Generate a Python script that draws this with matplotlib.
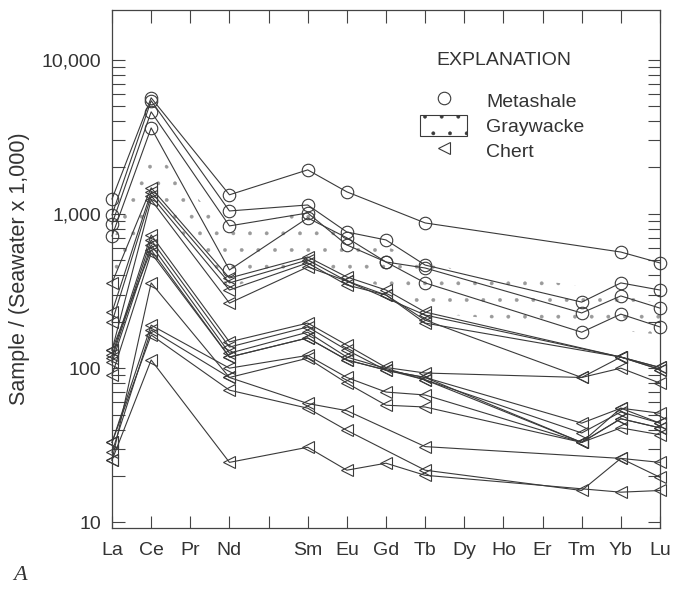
import numpy as np
import matplotlib.pyplot as plt
from matplotlib.lines import Line2D
from matplotlib.patches import Patch
from matplotlib.ticker import FixedLocator, NullFormatter

plt.rcParams['font.family'] = ['Liberation Sans', 'DejaVu Sans']
plt.rcParams['hatch.linewidth'] = 0.3
plt.rcParams['hatch.color'] = '#9a9a9a'

# REE order along the axis (Pm slot kept but not labelled)
tick_labels = ['La', 'Ce', 'Pr', 'Nd', '', 'Sm', 'Eu', 'Gd', 'Tb', 'Dy', 'Ho', 'Er', 'Tm', 'Yb', 'Lu']
# elements actually analysed
elements = ['La', 'Ce', 'Nd', 'Sm', 'Eu', 'Gd', 'Tb', 'Tm', 'Yb', 'Lu']
nan = np.nan

# sample / (seawater x 1000), order as in `elements`
metashale = [
    [1250, 5660, 1330, 1930, 1390, nan, 874, nan, 566, 481],
    [986, 5420, 1045, 1143, 763, 678, 466, 268, 357, 321],
    [861, 4590, 836, 1014, 629, 488, 446, 228, 294, 245],
    [720, 3610, 433, 942, 700, 488, 357, 171, 224, 185],
]

chert = [
    [357, 1476, 384, 526, 390, 321, 231, nan, 118, 101],
    [231, 1390, 357, 503, 367, nan, 221, nan, 118, 98],
    [199, 1310, 321, 481, 346, 298, 205, 87, 100, 80],
    [131, 1233, 264, 453, 367, 298, 196, nan, 118, 101],
    [121, 731, 148, 196, 141, 101, 93, 87, 118, 98],
    [116, 678, 137, 185, 131, 97, 87, 44, 55, 51],
    [109, 629, 125, 171, 118, nan, 84, 38, 52, 44],
    [131, 584, 118, 157, 113, nan, 84, 33, 55, 44],
    [90, 558, 118, 157, 113, 97, 87, 33, 47, 41],
    [25.3, 357, 87, 59, 53, nan, 31, nan, 26, 24.5],
    [33, 190, 100, 121, 87, 70, 67, 33, 47, 41],
    [28.5, 177, 87, 116, 80, 57.5, 56, 33, 41, 37],
    [33, 164, 72, 55, 39.5, nan, 21.8, 16.1, 26, 19.6],
    [25.3, 113, 24.5, 30.7, 21.8, 24.2, 20.2, nan, 15.7, 16.1],
]

# graywacke field (stippled envelope)
gw_upper = [650, 2700, 750, 1100, 720, 620, 470, 340, 300, 260]
gw_lower = [280, 1300, 330, 500, 400, 330, 230, 185, 175, 165]

xpos = np.array([tick_labels.index(e) for e in elements], dtype=float)

fig = plt.figure(figsize=(6.76, 6.01), dpi=100)
ax = fig.add_axes([0.1657, 0.1215, 0.8106, 0.8619])

# graywacke stipple
ax.fill_between(xpos, gw_lower, gw_upper, facecolor='none', edgecolor='#9a9a9a',
                hatch='.', linewidth=0, zorder=1)

line_kw = dict(color='#3a3a3a', lw=0.8, mfc='none', mec='#3a3a3a', mew=0.8, clip_on=False, zorder=3)

for s in metashale:
    v = np.array(s, dtype=float)
    m = ~np.isnan(v)
    ax.plot(xpos[m], v[m], marker='o', ms=9, **line_kw)

for s in chert:
    v = np.array(s, dtype=float)
    m = ~np.isnan(v)
    ax.plot(xpos[m], v[m], marker='<', ms=8, **line_kw)

ax.set_yscale('log')
ax.set_xlim(0, 14)
ax.set_ylim(9.2, 21000)

ax.xaxis.set_major_locator(FixedLocator(range(len(tick_labels))))
ax.set_xticklabels(tick_labels, fontsize=14, color='#333333')
ax.set_yticks([10, 100, 1000, 10000])
ax.set_yticklabels(['10', '100', '1,000', '10,000'], fontsize=14, color='#333333')
minor = [k * d for d in (10, 100, 1000) for k in range(2, 10)]
ax.yaxis.set_minor_locator(FixedLocator(minor))
ax.yaxis.set_minor_formatter(NullFormatter())

ax.tick_params(axis='both', which='both', direction='in', top=True, right=True,
               length=9, width=0.8, color='#444444')
ax.tick_params(axis='x', pad=10)
ax.tick_params(axis='y', pad=8)
for sp in ax.spines.values():
    sp.set_color('#444444')
    sp.set_linewidth(0.9)

ax.set_ylabel('Sample / (Seawater x 1,000)', fontsize=15.5, color='#333333', labelpad=8)

# explanation block
ax.text(0.715, 0.903, 'EXPLANATION', transform=ax.transAxes, ha='center', va='center',
        fontsize=14, color='#333333')
handles = [
    Line2D([], [], ls='none', marker='o', ms=9, mfc='none', mec='#3a3a3a', mew=0.8),
    Patch(facecolor='none', edgecolor='#3a3a3a', hatch='.', linewidth=0.8),
    Line2D([], [], ls='none', marker='<', ms=8, mfc='none', mec='#3a3a3a', mew=0.8),
]
leg = ax.legend(handles, ['Metashale', 'Graywacke', 'Chert'],
                loc='upper left', bbox_to_anchor=(0.545, 0.865), frameon=False,
                fontsize=14, handlelength=2.4, handleheight=1.3,
                handletextpad=1.0, labelspacing=0.2, borderpad=0)
for t in leg.get_texts():
    t.set_color('#333333')

fig.text(0.02, 0.035, 'A', fontsize=16, style='italic', family='Liberation Serif', color='#333333')

fig.savefig('out.png', dpi=100)
